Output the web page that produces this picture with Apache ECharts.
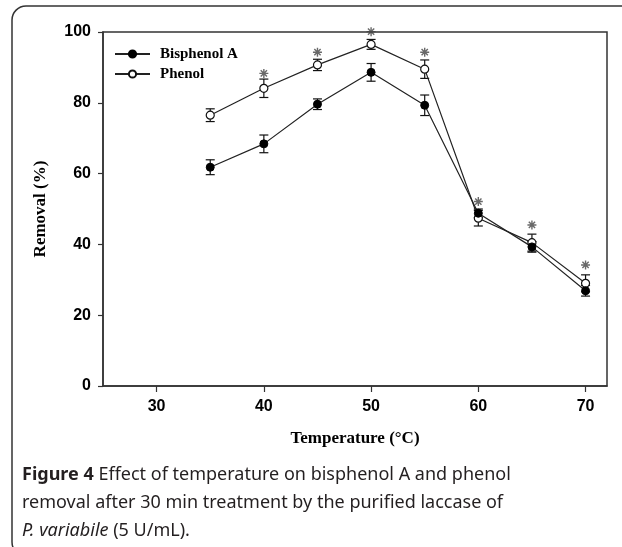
<!DOCTYPE html>
<html>
<head>
<meta charset="utf-8">
<script src="https://cdn.jsdelivr.net/npm/echarts@6/dist/echarts.min.js"></script>
<style>
  html, body { margin: 0; padding: 0; background: #fff; }
  #chart { width: 622px; height: 547px; }
</style>
</head>
<body>
<div id="chart"></div>
<script>
// temperatures (°C) and removal (%)
const temps = [35, 40, 45, 50, 55, 60, 65, 70];
const bpa = [61.8, 68.4, 79.6, 88.6, 79.3, 48.8, 39.3, 26.9];
const bpaErr = [2.1, 2.5, 1.5, 2.5, 2.9, 1.2, 1.5, 1.5];
const phenol = [76.5, 84.1, 90.7, 96.5, 89.5, 47.4, 40.5, 29.0];
const phenolErr = [1.8, 2.6, 1.6, 1.4, 2.6, 2.2, 2.4, 2.4];
// asterisks (significance marks), y position in %
const starY = [null, 88.3, 94.3, 100.1, 94.3, 52.1, 45.5, 34.2];
const xTicks = [30, 40, 50, 60, 70];

const chart = echarts.init(document.getElementById('chart'));

const toPairs = vals => temps.map((t, i) => [t, vals[i]]);
const toErr = (vals, errs) => temps.map((t, i) => [t, vals[i] - errs[i], vals[i] + errs[i]]);

// 误差棒
function renderErr(params, api) {
    const x = api.value(0);
    const top = api.coord([x, api.value(2)]);
    const bot = api.coord([x, api.value(1)]);
    const w = 4.5;
    const style = { stroke: '#111', lineWidth: 1.2 };
    return {
        type: 'group',
        children: [
            { type: 'line', shape: { x1: top[0], y1: top[1], x2: bot[0], y2: bot[1] }, style },
            { type: 'line', shape: { x1: top[0] - w, y1: top[1], x2: top[0] + w, y2: top[1] }, style },
            { type: 'line', shape: { x1: bot[0] - w, y1: bot[1], x2: bot[0] + w, y2: bot[1] }, style }
        ]
    };
}

const axisFont = { fontFamily: "'Liberation Sans', Arial, sans-serif", fontSize: 16, fontWeight: 'bold', color: '#000' };
const titleFont = { fontFamily: "'Liberation Serif', 'Times New Roman', serif", fontWeight: 'bold', fontSize: 17, color: '#000' };

const option = {
    animation: false,
    grid: {
        left: 103, top: 32, right: 15, bottom: 161,
        show: true, borderColor: '#333', borderWidth: 1.5,
        outerBoundsMode: 'none'
    },
    legend: {
        orient: 'vertical',
        left: 114, top: 46, padding: 0,
        itemWidth: 35, itemHeight: 9, itemGap: 4,
        data: ['Bisphenol A', 'Phenol'],
        textStyle: Object.assign({}, titleFont, { fontSize: 15, lineHeight: 16, padding: [0, 0, 0, 5] })
    },
    xAxis: {
        type: 'value', min: 25, max: 72,
        name: 'Temperature (°C)', nameLocation: 'middle', nameGap: 44,
        nameTextStyle: titleFont,
        axisLine: { show: true, lineStyle: { color: '#333', width: 1.5 } },
        axisTick: { show: true, length: 6, customValues: xTicks, lineStyle: { color: '#333', width: 1.2 } },
        axisLabel: Object.assign({ customValues: xTicks, margin: 13 }, axisFont),
        splitLine: { show: false }
    },
    yAxis: {
        type: 'value', min: 0, max: 100, interval: 20,
        name: 'Removal (%)', nameLocation: 'middle', nameGap: 54, nameRotate: 90,
        nameTextStyle: titleFont,
        axisLine: { show: true, lineStyle: { color: '#333', width: 1.5 } },
        axisTick: { show: true, length: 5, lineStyle: { color: '#333', width: 1.2 } },
        axisLabel: Object.assign({ margin: 12 }, axisFont),
        splitLine: { show: false }
    },
    series: [
        {
            type: 'custom', name: 'errBpa', renderItem: renderErr,
            data: toErr(bpa, bpaErr), encode: { x: 0, y: [1, 2] }, z: 1, silent: true
        },
        {
            type: 'custom', name: 'errPhenol', renderItem: renderErr,
            data: toErr(phenol, phenolErr), encode: { x: 0, y: [1, 2] }, z: 1, silent: true
        },
        {
            type: 'line', name: 'Phenol', data: toPairs(phenol),
            symbol: 'circle', symbolSize: 8,
            lineStyle: { color: '#222', width: 1.2 },
            itemStyle: { color: '#fff', borderColor: '#111', borderWidth: 1.2 },
            z: 3
        },
        {
            type: 'line', name: 'Bisphenol A', data: toPairs(bpa),
            symbol: 'circle', symbolSize: 8,
            lineStyle: { color: '#222', width: 1.2 },
            itemStyle: { color: '#000', borderColor: '#000', borderWidth: 1 },
            z: 4
        },
        {
            type: 'scatter', name: 'stars',
            data: temps.map((t, i) => starY[i] == null ? null : [t, starY[i]]).filter(d => d),
            symbol: 'path://M5,0L5,10M0,5L10,5M1.5,1.5L8.5,8.5M1.5,8.5L8.5,1.5',
            symbolSize: 9,
            itemStyle: { color: 'rgba(0,0,0,0)', borderColor: '#444', borderWidth: 1.4 },
            clip: false, z: 5, silent: true
        }
    ],
    graphic: [
        {
            type: 'rect',
            shape: { x: 12, y: 6, width: 700, height: 550, r: 14 },
            style: { fill: 'none', stroke: '#333', lineWidth: 1.5 },
            silent: true
        },
        {
            type: 'text', left: 22, top: 461,
            style: {
                text: '{b|Figure 4} Effect of temperature on bisphenol A and phenol\nremoval after 30 min treatment by the purified laccase of\n{i|P. variabile} (5 U/mL).',
                font: '18px "Noto Sans", sans-serif',
                fill: '#231f20',
                lineHeight: 28,
                rich: {
                    b: { fontWeight: 'bold', fontSize: 18, fontFamily: 'Noto Sans', fill: '#231f20' },
                    i: { fontStyle: 'italic', fontSize: 18, fontFamily: 'Noto Sans', fill: '#231f20' }
                }
            }
        }
    ]
};

chart.setOption(option);
</script>
</body>
</html>
